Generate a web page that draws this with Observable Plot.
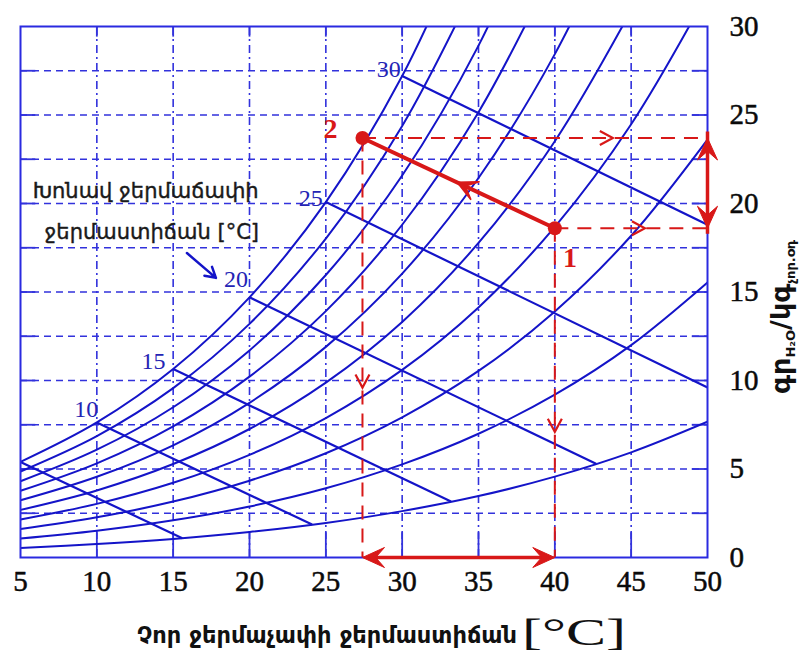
<!DOCTYPE html>
<html><head><meta charset="utf-8">
<script src="https://cdn.jsdelivr.net/npm/d3@7"></script>
<script src="https://cdn.jsdelivr.net/npm/@observablehq/plot@0.6"></script>
<style>body{margin:0;background:#fff}</style>
</head><body><div id="chart"></div>
<script>
// Dry-bulb temperatures (°C) at which the relative-humidity curves are read
const temps = [5, 10, 15, 20, 25, 30, 35, 40, 45, 50];
// Humidity ratio g/kg for relative humidity curves 10% ... 100%
const rh10  = [0.54, 0.76, 1.05, 1.44, 1.95, 2.62, 3.47, 4.57, 5.94, 7.67];
const rh20  = [1.07, 1.51, 2.10, 2.88, 3.91, 5.26, 6.99, 9.20, 12.00, 15.54];
const rh30  = [1.61, 2.27, 3.16, 4.34, 5.89, 7.92, 10.54, 13.90, 18.18, 23.61];
const rh40  = [2.15, 3.03, 4.22, 5.80, 7.88, 10.60, 14.13, 18.68, 24.48, 31.88];
const rh50  = [2.69, 3.79, 5.28, 7.26, 9.88, 13.31, 17.77, 23.52, 30.91];
const rh60  = [3.23, 4.56, 6.34, 8.74, 11.90, 16.04, 21.44, 28.44, 37.46];
const rh70  = [3.77, 5.32, 7.41, 10.22, 13.92, 18.80, 25.16, 33.43];
const rh80  = [4.31, 6.09, 8.49, 11.70, 15.96, 21.58, 28.92, 38.51];
const rh90  = [4.86, 6.86, 9.57, 13.20, 18.02, 24.38, 32.73];
const rh100 = [5.40, 7.63, 10.65, 14.70, 20.08, 27.20, 36.58];
const rhCurves = [rh10, rh20, rh30, rh40, rh50, rh60, rh70, rh80, rh90, rh100];

// Wet-bulb temperature lines (start on saturation curve, end on 10% curve / right edge)
const wbTemps  = [5, 10, 15, 20, 25, 30];
const wbStartX = [5, 10, 15, 20, 25, 30];
const wbStartY = [5.40, 7.63, 10.65, 14.70, 20.08, 27.20];
const wbEndX   = [15.6, 24.1, 33.2, 42.7, 50, 50];
const wbEndY   = [1.09, 1.86, 3.16, 5.30, 9.60, 18.80];
// Wet-bulb labels
const wbLabelText = ["10", "15", "20", "25", "30"];
const wbLabelX = [10.1, 14.5, 19.9, 24.8, 29.9];
const wbLabelY = [8.4, 11.1, 15.7, 20.3, 27.6];

// Axis ticks
const xTicks = [5, 10, 15, 20, 25, 30, 35, 40, 45, 50];
const yTicks = [0, 5, 10, 15, 20, 25, 30];
const xGrid = [10, 15, 20, 25, 30, 35, 40, 45];
const yGrid = [2.5, 5, 7.5, 10, 12.5, 15, 17.5, 20, 22.5, 25, 27.5];

// Process states
const stateX = [40, 27.4];
const stateY = [18.6, 23.7];
const stateName = ["1", "2"];
const stateLabelX = [41.0, 25.3];
const stateLabelY = [16.9, 24.2];
// arrowheads on dashed guide lines
const guideArrowX = [43.8, 45.9, 27.4, 40];
const guideArrowY = [23.7, 18.6, 9.6, 7.1];
const guideArrowDir = [0, 0, 90, 90];
const processArrowX = [33.6];
const processArrowY = [21.2];

// Annotation
const noteLines = ["Խոնավ ջերմաճափի", "ջերմաստիճան [°C]"];
const noteX = [13.2, 13.6];
const noteY = [20.7, 18.4];
const pointerX = [15.9, 17.8];
const pointerY = [17.2, 15.8];

const xLabel = "Չոր ջերմաչափի ջերմաստիճան";
const xUnit = "[°C]";
const yLabelParts = ["գր", "H₂O", "/կգ", "չոր.օդ"];

// ---------- build ----------
const W = 804, H = 656, mL = 20, mR = 97, mT = 26, mB = 99;
const kx = (W - mL - mR) / 45, ky = (H - mT - mB) / 30;
const blue = "#1414c8", gridBlue = "#3232dc", red = "#d81818";

const rhRows = rhCurves.flatMap((arr, k) => arr.map((w, i) => ({t: temps[i], w, rh: (k + 1) * 10})));
const wbRows = wbTemps.map((t, i) => ({t, x1: wbStartX[i], y1: wbStartY[i], x2: wbEndX[i], y2: wbEndY[i]}));
const angle = (x1, y1, x2, y2) => Math.atan2(-(y2 - y1) * ky, (x2 - x1) * kx) * 180 / Math.PI;
const procAngle = angle(stateX[0], stateY[0], stateX[1], stateY[1]);

const barb = (L, Wd, n) => ({draw(ctx) { ctx.moveTo(0, 0); ctx.lineTo(-L, -Wd); ctx.lineTo(-n * L, 0); ctx.lineTo(-L, Wd); ctx.closePath(); }});
const chevron = (L, Wd) => ({draw(ctx) { ctx.moveTo(-L, -Wd); ctx.lineTo(0, 0); ctx.lineTo(-L, Wd); }});

const heads = [
  {x: stateX[1], y: 0, r: 180}, {x: stateX[0], y: 0, r: 0},
  {x: 50, y: stateY[1], r: -90}, {x: 50, y: stateY[0], r: 90}
];
const guideHeads = guideArrowX.map((x, i) => ({x, y: guideArrowY[i], r: guideArrowDir[i]}));
const procHeads = processArrowX.map((x, i) => ({x, y: processArrowY[i], r: procAngle}));

const serif = "Liberation Serif";
const arm = "DejaVu Sans";

const svg = Plot.plot({
  width: W, height: H,
  marginLeft: mL, marginRight: mR, marginTop: mT, marginBottom: mB,
  x: {domain: [5, 50], axis: null},
  y: {domain: [0, 30], axis: null},
  style: {fontFamily: serif, background: "#fff", color: "#111"},
  marks: [
    Plot.ruleY(yGrid, {x1: 5, x2: 50, stroke: gridBlue, strokeWidth: 1.6, strokeDasharray: "7,5"}),
    Plot.ruleX(xGrid, {y1: 0, y2: 30, stroke: gridBlue, strokeWidth: 1.6, strokeDasharray: "8,4,2,4"}),
    Plot.ruleX(xGrid, {y1: 0, y2: 1.4, stroke: gridBlue, strokeWidth: 1.8}),
    Plot.ruleX(xGrid, {y1: 30, y2: 29.4, stroke: gridBlue, strokeWidth: 1.8}),
    Plot.ruleY(yGrid, {x1: 5, x2: 6, stroke: gridBlue, strokeWidth: 1.8}),
    Plot.ruleY(yGrid, {x1: 50, x2: 49, stroke: gridBlue, strokeWidth: 1.8}),
    Plot.line(rhRows, {x: "t", y: "w", z: "rh", curve: "catmull-rom", stroke: blue, strokeWidth: 2, clip: true}),
    Plot.link(wbRows, {x1: "x1", y1: "y1", x2: "x2", y2: "y2", stroke: blue, strokeWidth: 2.2, clip: true}),
    Plot.frame({stroke: "#2a2ae0", strokeWidth: 2}),
    Plot.text(wbLabelText, {x: (d, i) => wbLabelX[i], y: (d, i) => wbLabelY[i], text: d => d, textAnchor: "end", fontSize: 24, fontFamily: serif, fill: "#2424b4"}),
    // tick labels
    Plot.text(xTicks, {x: d => d, frameAnchor: "bottom", dy: 33, text: d => String(d), fontSize: 29, fontFamily: serif, fill: "#0a0a0a", stroke: "#0a0a0a", strokeWidth: 0.5}),
    Plot.text(yTicks, {y: d => d, frameAnchor: "right", dx: 22, textAnchor: "start", text: d => String(d), fontSize: 29, fontFamily: serif, fill: "#0a0a0a", stroke: "#0a0a0a", strokeWidth: 0.5}),
    // red guides
    Plot.ruleY([stateY[1]], {x1: stateX[1], x2: 50, stroke: red, strokeWidth: 2, strokeDasharray: "14,9"}),
    Plot.ruleY([stateY[0]], {x1: stateX[0], x2: 50, stroke: red, strokeWidth: 2, strokeDasharray: "14,9"}),
    Plot.ruleX([stateX[1]], {y1: stateY[1], y2: 0, stroke: red, strokeWidth: 2, strokeDasharray: "14,9"}),
    Plot.ruleX([stateX[0]], {y1: stateY[0], y2: 0, stroke: red, strokeWidth: 2, strokeDasharray: "14,9"}),
    Plot.dot(guideHeads, {x: "x", y: "y", rotate: "r", symbol: chevron(13, 7), fill: "none", stroke: red, strokeWidth: 2.2}),
    Plot.link([0], {x1: stateX[0], y1: stateY[0], x2: stateX[1], y2: stateY[1], stroke: red, strokeWidth: 4}),
    Plot.dot(procHeads, {x: "x", y: "y", rotate: "r", symbol: barb(20, 10, 0.45), fill: red, stroke: red, strokeWidth: 1.5}),
    Plot.ruleY([0], {x1: stateX[1], x2: stateX[0], stroke: red, strokeWidth: 3.5, insetLeft: 6, insetRight: 6}),
    Plot.ruleX([50], {y1: stateY[0], y2: stateY[1], stroke: red, strokeWidth: 3.5, insetTop: 6, insetBottom: 6}),
    Plot.dot(heads, {x: "x", y: "y", rotate: "r", symbol: barb(22, 10, 0.6), fill: red, stroke: red, strokeWidth: 1}),
    Plot.dot(stateName, {x: (d, i) => stateX[i], y: (d, i) => stateY[i], r: 7, fill: red}),
    Plot.text(stateName, {x: (d, i) => stateLabelX[i], y: (d, i) => stateLabelY[i], text: d => d, fontSize: 28, fontWeight: "bold", fontFamily: serif, fill: red}),
    Plot.text(noteLines, {x: (d, i) => noteX[i], y: (d, i) => noteY[i], text: d => d, fontSize: 21, fontFamily: arm, fill: "#1a1a1a", stroke: "#1a1a1a", strokeWidth: 0.4}),
    Plot.arrow([0], {x1: pointerX[0], y1: pointerY[0], x2: pointerX[1], y2: pointerY[1], stroke: blue, strokeWidth: 2.5, headLength: 7})
  ]
});

const s = d3.select(svg);
// x-axis title
s.append("text").attr("x", 137).attr("y", 643).attr("text-anchor", "start").attr("fill", "#111")
  .style("font-family", arm).attr("font-weight", "bold").attr("font-size", 23)
  .attr("textLength", 380).attr("lengthAdjust", "spacingAndGlyphs").text(xLabel);
s.append("text").attr("x", 522).attr("y", 645).attr("text-anchor", "start").attr("fill", "#111")
  .style("font-family", serif).attr("font-size", 38)
  .attr("textLength", 104).attr("lengthAdjust", "spacingAndGlyphs").text(xUnit);
// y-axis title (rotated)
const yt = s.append("text").attr("transform", "translate(790,317) rotate(-90)").attr("text-anchor", "middle")
  .attr("fill", "#111").style("font-family", arm).attr("font-weight", "bold");
yt.append("tspan").attr("font-size", 27).text(yLabelParts[0]);
yt.append("tspan").attr("font-size", 13).attr("dy", 5).text(yLabelParts[1]);
yt.append("tspan").attr("font-size", 27).attr("dy", -5).text(yLabelParts[2]);
yt.append("tspan").attr("font-size", 13).attr("dy", 5).text(yLabelParts[3]);

document.getElementById("chart").appendChild(svg);
</script></body></html>
